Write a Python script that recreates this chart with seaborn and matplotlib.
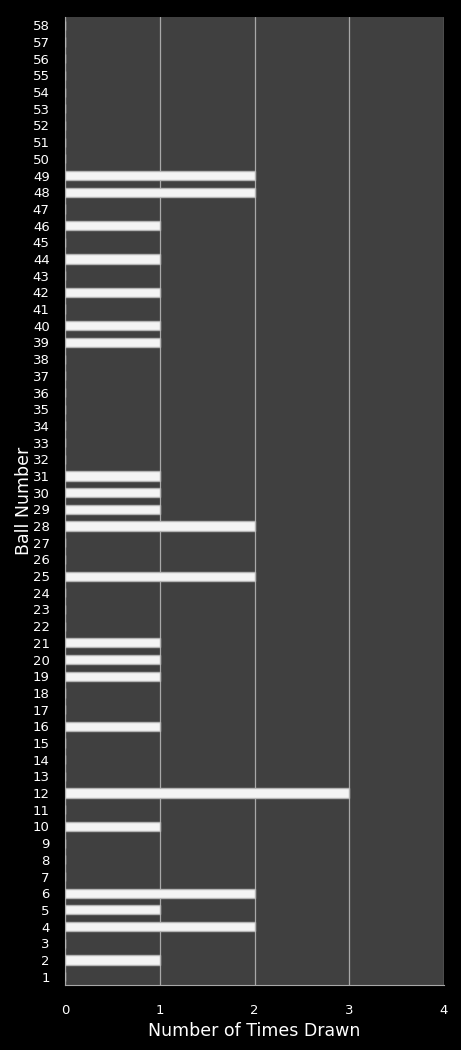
import numpy as np
import matplotlib
matplotlib.use("Agg")
import matplotlib.pyplot as plt
import seaborn as sns
import pandas as pd

balls = list(range(1, 59))
drawn_balls = [2, 4, 5, 6, 10, 12, 16, 19, 20, 21, 25, 28, 29, 30, 31, 39, 40, 42, 44, 46, 48, 49]
drawn_counts = [1, 2, 1, 2, 1, 3, 1, 1, 1, 1, 2, 2, 1, 1, 1, 1, 1, 1, 1, 1, 2, 2]

counts = dict(zip(drawn_balls, drawn_counts))
df = pd.DataFrame({"ball": [str(b) for b in balls],
                   "times": [counts.get(b, 0) for b in balls]})
order = [str(b) for b in balls[::-1]]

sns.set_style("dark")
plt.rcParams['font.family'] = ['DejaVu Sans']

fig = plt.figure(figsize=(4.61, 10.5), dpi=100, facecolor="black")
ax = fig.add_axes([65/461, 1 - 985/1050, (444-65)/461, (985-17)/1050])
ax.set_facecolor("#404040")

sns.barplot(data=df, x="times", y="ball", order=order, orient="h",
            color="#f4f4f4", edgecolor="#b4b4b4", linewidth=1.0,
            width=0.55, saturation=1, ax=ax, zorder=3)

ax.set_xlim(0, 4)
ax.set_xticks([0, 1, 2, 3, 4])
ax.grid(axis="x", color="#a8a8a8", linewidth=0.9, zorder=0)
ax.grid(axis="y", visible=False)
for s in ["top", "right"]:
    ax.spines[s].set_visible(False)
ax.spines["left"].set_color("#a8a8a8")
ax.spines["bottom"].set_color("#a8a8a8")
ax.tick_params(axis="x", colors="white", labelsize=9.5, length=0, pad=14)
ax.tick_params(axis="y", colors="white", labelsize=9.5, length=0, pad=11)
ax.set_xlabel("Number of Times Drawn", color="white", fontsize=12.5, labelpad=3)
ax.set_ylabel("Ball Number", color="white", fontsize=12.5, labelpad=0)

fig.savefig("out.png", dpi=100, facecolor="black")
